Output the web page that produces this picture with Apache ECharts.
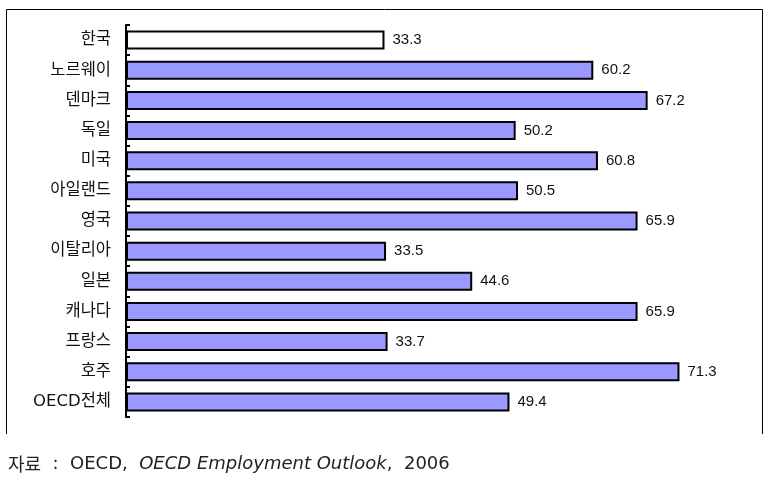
<!DOCTYPE html>
<html><head><meta charset="utf-8">
<script src="https://cdn.jsdelivr.net/npm/echarts@6/dist/echarts.min.js"></script>
<style>html,body{margin:0;padding:0;background:#fff}#c{width:780px;height:482px}</style>
</head><body><div id="c"></div>
<script>
var categories = ['한국','노르웨이','덴마크','독일','미국','아일랜드','영국','이탈리아','일본','캐나다','프랑스','호주','OECD전체'];
var values = [33.3,60.2,67.2,50.2,60.8,50.5,65.9,33.5,44.6,65.9,33.7,71.3,49.4];
var highlight = '한국';

var chart = echarts.init(document.getElementById('c'), null, {renderer:'canvas'});
var font = '"Noto Sans CJK KR", "Noto Sans", sans-serif';
var lat = '"DejaVu Sans", sans-serif';
chart.setOption({
  animation:false,
  grid:{left:126, top:25, width:621, height:392, containLabel:false},
  xAxis:{type:'value', min:0, max:80, show:false},
  yAxis:{type:'category', data:categories, inverse:true,
    axisLine:{show:true, lineStyle:{color:'#000', width:2}},
    axisTick:{show:true, inside:true, length:4, lineStyle:{color:'#000', width:2}},
    axisLabel:{color:'#111', fontSize:16.5, fontFamily:'"DejaVu Sans", "Noto Sans CJK KR", sans-serif', margin:15},
    splitLine:{show:false}},
  series:[{type:'bar', barWidth:19,
    data: categories.map(function(c,i){
      return {value: values[i], itemStyle:{color: c===highlight ? '#ffffff' : '#9999ff'}};
    }),
    itemStyle:{borderColor:'#000', borderWidth:2},
    label:{show:true, position:'right', distance:8, color:'#111', fontSize:15, fontFamily:'"Liberation Sans", Arial, sans-serif',
      formatter:function(p){return p.value.toFixed(1);}}
  }],
  graphic:[
    {type:'polyline', shape:{points:[[6.5,434],[6.5,9.5],[762.5,9.5],[762.5,434]]}, style:{stroke:'#000', lineWidth:1, fill:null}},
    {type:'text', left:8, top:455, style:{
      rich:{k:{fontSize:18, fontFamily:font, fill:'#222'}, n:{fontSize:18, fontFamily:lat, fill:'#222'}, i:{fontSize:18, fontFamily:lat, fontStyle:'italic', fill:'#222'}},
      text:'{k|자료}{n|  :  OECD,  }{i|OECD Employment Outlook}{n|,  2006}'}}
  ]
});
</script></body></html>
